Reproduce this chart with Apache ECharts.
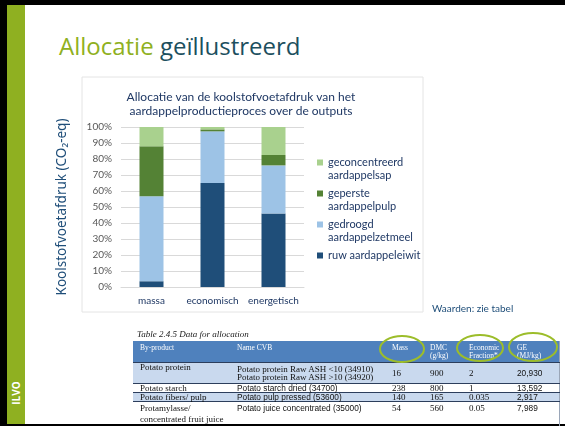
<!DOCTYPE html>
<html>
<head>
<meta charset="utf-8">
<script src="https://cdn.jsdelivr.net/npm/echarts@6/dist/echarts.min.js"></script>
<style>
html, body { margin: 0; padding: 0; }
body { width: 565px; height: 426px; position: relative; overflow: hidden; background: #fff; }
.blok { position: absolute; background: #000; }
#groen { position: absolute; left: 7px; top: 5px; width: 18px; height: 419px; background: #8fb021; }
#ilvo { position: absolute; left: 16px; top: 393px; transform: translate(-50%, -50%) rotate(-90deg);
        color: #fff; font: bold 10px 'Open Sans'; }
#titel { position: absolute; left: 59px; top: 29px; font: 24px 'Open Sans'; color: #1c4f5e; white-space: nowrap; }
#titel span { color: #8fb021; }
#main { position: absolute; left: 0; top: 0; width: 565px; height: 426px; }
#noot { position: absolute; left: 432px; top: 302px; font: 10px Lato; color: #1f4e79; }
#bijschrift { position: absolute; left: 137px; top: 329px; font: italic 9px 'Liberation Serif'; color: #222; }
#tabel { position: absolute; left: 133px; top: 341px; width: 426px; border-collapse: collapse; table-layout: fixed;
         font: 9px 'Liberation Serif'; color: #111; border-right: 1px solid #9aa6b8; }
#tabel th { background: #4f81bd; color: #fff; font-weight: normal; text-align: left; vertical-align: top;
            padding: 3px 0 0 7px; height: 18px; line-height: 8px; font-size: 7.5px; }
#tabel td { padding: 0 0 0 7px; line-height: 8px; border-top: 1px solid #2c3e5c; vertical-align: middle; white-space: nowrap; }
#tabel tr.licht td { background: #c9d9ee; }
#tabel tr.laatste td { line-height: 11px; padding-top: 1px; }
#tabel td.sans { font-family: 'Liberation Sans'; font-size: 8.3px; }
#ellipsen { position: absolute; left: 0; top: 0; }
</style>
</head>
<body>
<div class="blok" style="left:0;top:0;width:565px;height:5px"></div>
<div class="blok" style="left:0;top:0;width:7px;height:426px"></div>
<div class="blok" style="left:0;top:424px;width:565px;height:2px"></div>
<div id="groen"></div>
<div id="ilvo">ILVO</div>
<div id="titel"><span>Allocatie</span> geïllustreerd</div>
<div id="main"></div>
<div id="noot">Waarden: zie tabel</div>
<div id="bijschrift">Table 2.4.5 Data for allocation</div>
<table id="tabel"></table>
<svg id="ellipsen" width="565" height="426">
  <ellipse cx="402" cy="349" rx="22" ry="13" fill="none" stroke="#9cbd2a" stroke-width="2"/>
  <ellipse cx="480" cy="348" rx="23" ry="13" fill="none" stroke="#9cbd2a" stroke-width="2"/>
  <ellipse cx="533" cy="347" rx="24" ry="14" fill="none" stroke="#9cbd2a" stroke-width="2"/>
</svg>
<script type="text/javascript">
// gegevens uit de grafiek (aandeel in %)
var categories = ['massa', 'economisch', 'energetisch'];
var ruwAardappeleiwit = [3.6, 65, 46];
var gedroogdZetmeel = [53.1, 32.3, 30];
var geperstePulp = [31.2, 1.2, 6.5];
var geconcentreerdSap = [12.1, 1.5, 17.5];

var seriesNamen = ['ruw aardappeleiwit', 'gedroogd aardappelzetmeel', 'geperste aardappelpulp', 'geconcentreerd aardappelsap'];
var kleuren = ['#1f4e79', '#9dc3e6', '#548235', '#a9d18e'];
var legendaTekst = {
    'geconcentreerd aardappelsap': 'geconcentreerd\naardappelsap',
    'geperste aardappelpulp': 'geperste\naardappelpulp',
    'gedroogd aardappelzetmeel': 'gedroogd\naardappelzetmeel',
    'ruw aardappeleiwit': 'ruw aardappeleiwit\n '
};

// tabel onder de grafiek
var tabelKop = ['By-product', 'Name CVB', 'Mass', 'DMC<br>(g/kg)', 'Economic<br>Fraction*', 'GE<br>(MJ/kg)'];
var kolomBreedte = [97, 155, 38, 39, 48, 49];
var tabelRijen = [
    ['Potato protein', 'Potato protein Raw ASH &lt;10 (34910)<br>Potato protein Raw ASH &gt;10 (34920)', '16', '900', '2', '20,930'],
    ['Potato starch', 'Potato starch dried (34700)', '238', '800', '1', '13,592'],
    ['Potato fibers/ pulp', 'Potato pulp pressed (53600)', '140', '165', '0.035', '2,917'],
    ['Protamylasse/<br>concentrated fruit juice', 'Potato juice concentrated (35000)', '54', '560', '0.05', '7,989']
];
var rijHoogte = [21, 9, 8, 24];

var html = '<colgroup>';
for (var i = 0; i < kolomBreedte.length; i++) html += '<col style="width:' + kolomBreedte[i] + 'px">';
html += '</colgroup><tr>';
for (var i = 0; i < tabelKop.length; i++) html += '<th>' + tabelKop[i] + '</th>';
html += '</tr>';
for (var r = 0; r < tabelRijen.length; r++) {
    var klasse = (r % 2 == 0 ? 'licht' : '') + (r == tabelRijen.length - 1 ? ' laatste' : '');
    html += '<tr class="' + klasse + '" style="height:' + rijHoogte[r] + 'px">';
    for (var c = 0; c < tabelRijen[r].length; c++) {
        var cls = (c == 5 || (c == 1 && r > 0)) ? 'sans' : '';
        var va = (c == 0 || r == 3) ? 'vertical-align:top;' : '';
        html += '<td class="' + cls + '" style="' + va + '">' + tabelRijen[r][c] + '</td>';
    }
    html += '</tr>';
}
document.getElementById('tabel').innerHTML = html;

var myChart = echarts.init(document.getElementById('main'));
var reeksData = [ruwAardappeleiwit, gedroogdZetmeel, geperstePulp, geconcentreerdSap];
var series = [];
for (var i = 0; i < seriesNamen.length; i++) {
    series.push({
        name: seriesNamen[i],
        type: 'bar',
        stack: 'totaal',
        barWidth: 24,
        itemStyle: { color: kleuren[i] },
        data: reeksData[i]
    });
}

var option = {
    animation: false,
    title: {
        text: 'Allocatie van de koolstofvoetafdruk van het\naardappelproductieproces over de outputs',
        left: 236,
        top: 85,
        textAlign: 'center',
        textStyle: { fontFamily: 'Lato', fontSize: 12, fontWeight: 'normal', color: '#1f3864', lineHeight: 14 }
    },
    graphic: [{
        type: 'rect',
        shape: { x: 82, y: 77, width: 341, height: 235 },
        style: { fill: 'none', stroke: '#e4e4e4', lineWidth: 1 }
    }],
    legend: {
        orient: 'vertical',
        left: 312,
        top: 138,
        itemWidth: 6,
        itemHeight: 6,
        itemGap: -8,
        icon: 'rect',
        data: ['geconcentreerd aardappelsap', 'geperste aardappelpulp', 'gedroogd aardappelzetmeel', 'ruw aardappeleiwit'],
        formatter: function (name) { return '\n' + legendaTekst[name]; },
        textStyle: { fontFamily: 'Lato', fontSize: 11, lineHeight: 13, color: '#1f3864' }
    },
    grid: { left: 121, right: 261, top: 127, height: 160 },
    xAxis: {
        type: 'category',
        data: categories,
        axisLine: { lineStyle: { color: '#d9d9d9' } },
        axisTick: { show: false },
        axisLabel: { interval: 0, color: '#1f3864', fontFamily: 'Lato', fontSize: 10, margin: 9 }
    },
    yAxis: {
        type: 'value',
        min: 0,
        max: 100,
        interval: 10,
        name: 'Koolstofvoetafdruk (CO₂-eq)',
        nameLocation: 'middle',
        nameGap: 52,
        nameTextStyle: { fontFamily: 'Noto Sans', fontSize: 13.5, color: '#1f4e79' },
        axisLine: { show: false },
        axisTick: { show: false },
        splitLine: { lineStyle: { color: '#d9d9d9' } },
        axisLabel: { formatter: '{value}%', color: '#595959', fontFamily: 'Lato', fontSize: 10, margin: 9 }
    },
    series: series
};
myChart.setOption(option);
</script>
</body>
</html>
